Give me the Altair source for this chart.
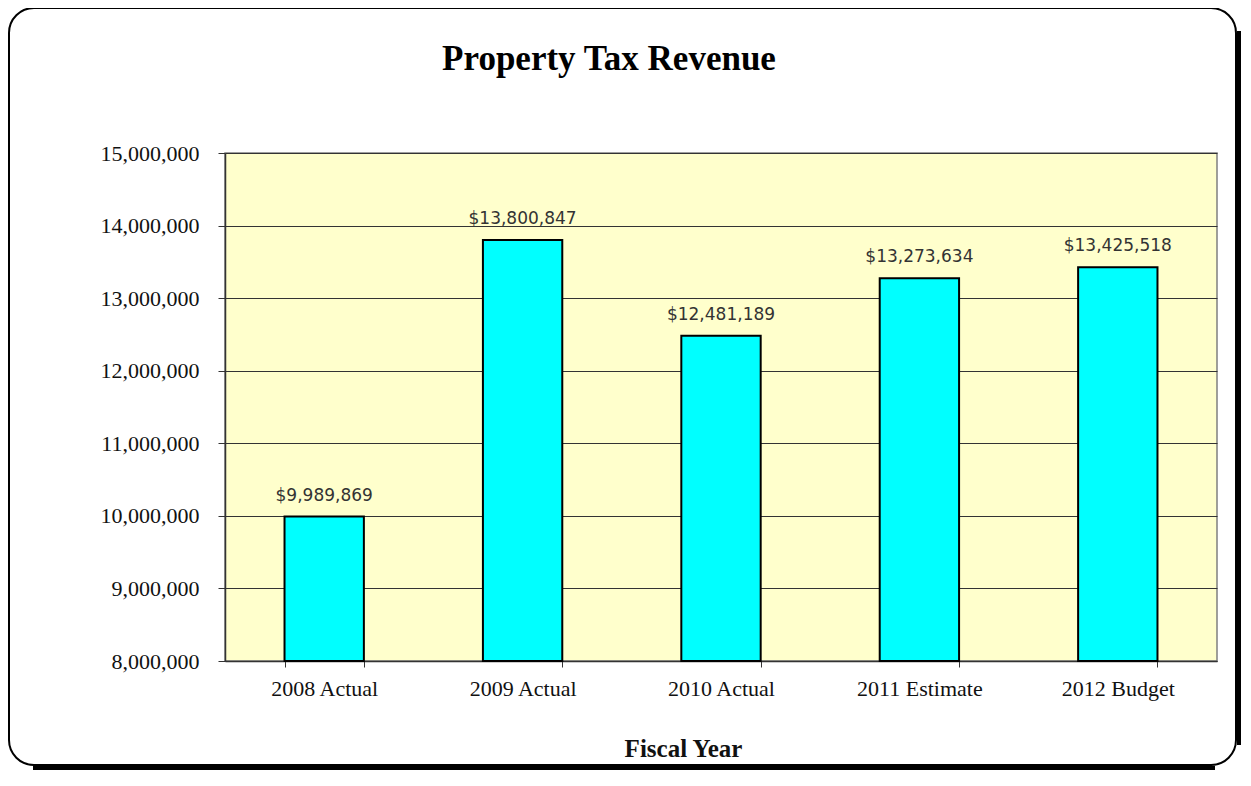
import altair as alt
import pandas as pd

chart_title = "Property Tax Revenue"
categories = ["2008 Actual", "2009 Actual", "2010 Actual", "2011 Estimate", "2012 Budget"]
revenue = [9989869, 13800847, 12481189, 13273634, 13425518]
value_labels = ["$9,989,869", "$13,800,847", "$12,481,189", "$13,273,634", "$13,425,518"]
y_ticks = [8000000, 9000000, 10000000, 11000000, 12000000, 13000000, 14000000, 15000000]

df = pd.DataFrame({"year": categories, "revenue": revenue, "label": value_labels})

W, H = 992, 508
SERIF = "Liberation Serif"

x_enc = alt.X(
    "year:N",
    sort=categories,
    title="Fiscal Year",
    scale=alt.Scale(paddingInner=0.6, paddingOuter=0.3),
    axis=alt.Axis(
        labelAngle=0,
        tickBand="extent",
        tickSize=6,
        tickColor="#333333",
        domainColor="#333333",
        domainWidth=1.5,
        labelBaseline="alphabetic",
        labelPadding=28,
        labelFont=SERIF,
        labelFontSize=22,
        labelColor="#111111",
        titleFont=SERIF,
        titleFontSize=25,
        titleFontWeight="bold",
        titleColor="#111111",
        titleBaseline="alphabetic",
        titleX=458,
        titleY=95,
        grid=False,
    ),
)
y_enc = alt.Y(
    "revenue:Q",
    title=None,
    scale=alt.Scale(domain=[8000000, 15000000], zero=False, nice=False),
    axis=alt.Axis(
        values=y_ticks,
        format=",d",
        tickSize=7,
        tickColor="#333333",
        domainColor="#333333",
        domainWidth=1.5,
        labelPadding=19,
        labelFont=SERIF,
        labelFontSize=22,
        labelColor="#111111",
        grid=True,
        gridColor="#333333",
        gridWidth=1,
    ),
)

base = alt.Chart(df)

bars = base.mark_bar(color="#00FFFF", stroke="#000000", strokeWidth=2).encode(
    x=x_enc,
    y=y_enc,
    y2=alt.datum(8000000),
)

texts = base.mark_text(
    dy=-16, baseline="alphabetic", font="DejaVu Sans", fontSize=17, color="#333333"
).encode(
    x=alt.X("year:N", sort=categories),
    y=alt.Y("revenue:Q"),
    text="label:N",
)

deco = alt.Chart(pd.DataFrame({"d": [0]}))
frame = deco.mark_rect(
    cornerRadius=25, fill="#ffffff", fillOpacity=0, stroke="#000000", strokeWidth=2
).encode(
    x=alt.value(-216), x2=alt.value(1011), y=alt.value(-145), y2=alt.value(612)
)
shadow_r = deco.mark_rule(color="#000000", strokeWidth=4).encode(
    x=alt.value(1014), y=alt.value(-122), y2=alt.value(592)
)
shadow_b = deco.mark_rule(color="#000000", strokeWidth=4).encode(
    x=alt.value(-192), x2=alt.value(990), y=alt.value(615)
)
title_mark = deco.mark_text(
    text=chart_title,
    font=SERIF,
    fontSize=35,
    fontWeight="bold",
    color="#000000",
    align="center",
    baseline="alphabetic",
).encode(x=alt.value(384), y=alt.value(-83))

chart = alt.layer(frame, shadow_r, shadow_b, title_mark, bars, texts).properties(
    width=W,
    height=H,
    autosize=alt.AutoSizeParams(type="none"),
    padding={"left": 217, "top": 145, "right": 26, "bottom": 111},
    background="#ffffff",
).configure_view(
    fill="#FFFFCC", stroke="#808080", strokeWidth=1.5
)

chart.save("out.html", embed_options={"renderer": "svg", "actions": False})
